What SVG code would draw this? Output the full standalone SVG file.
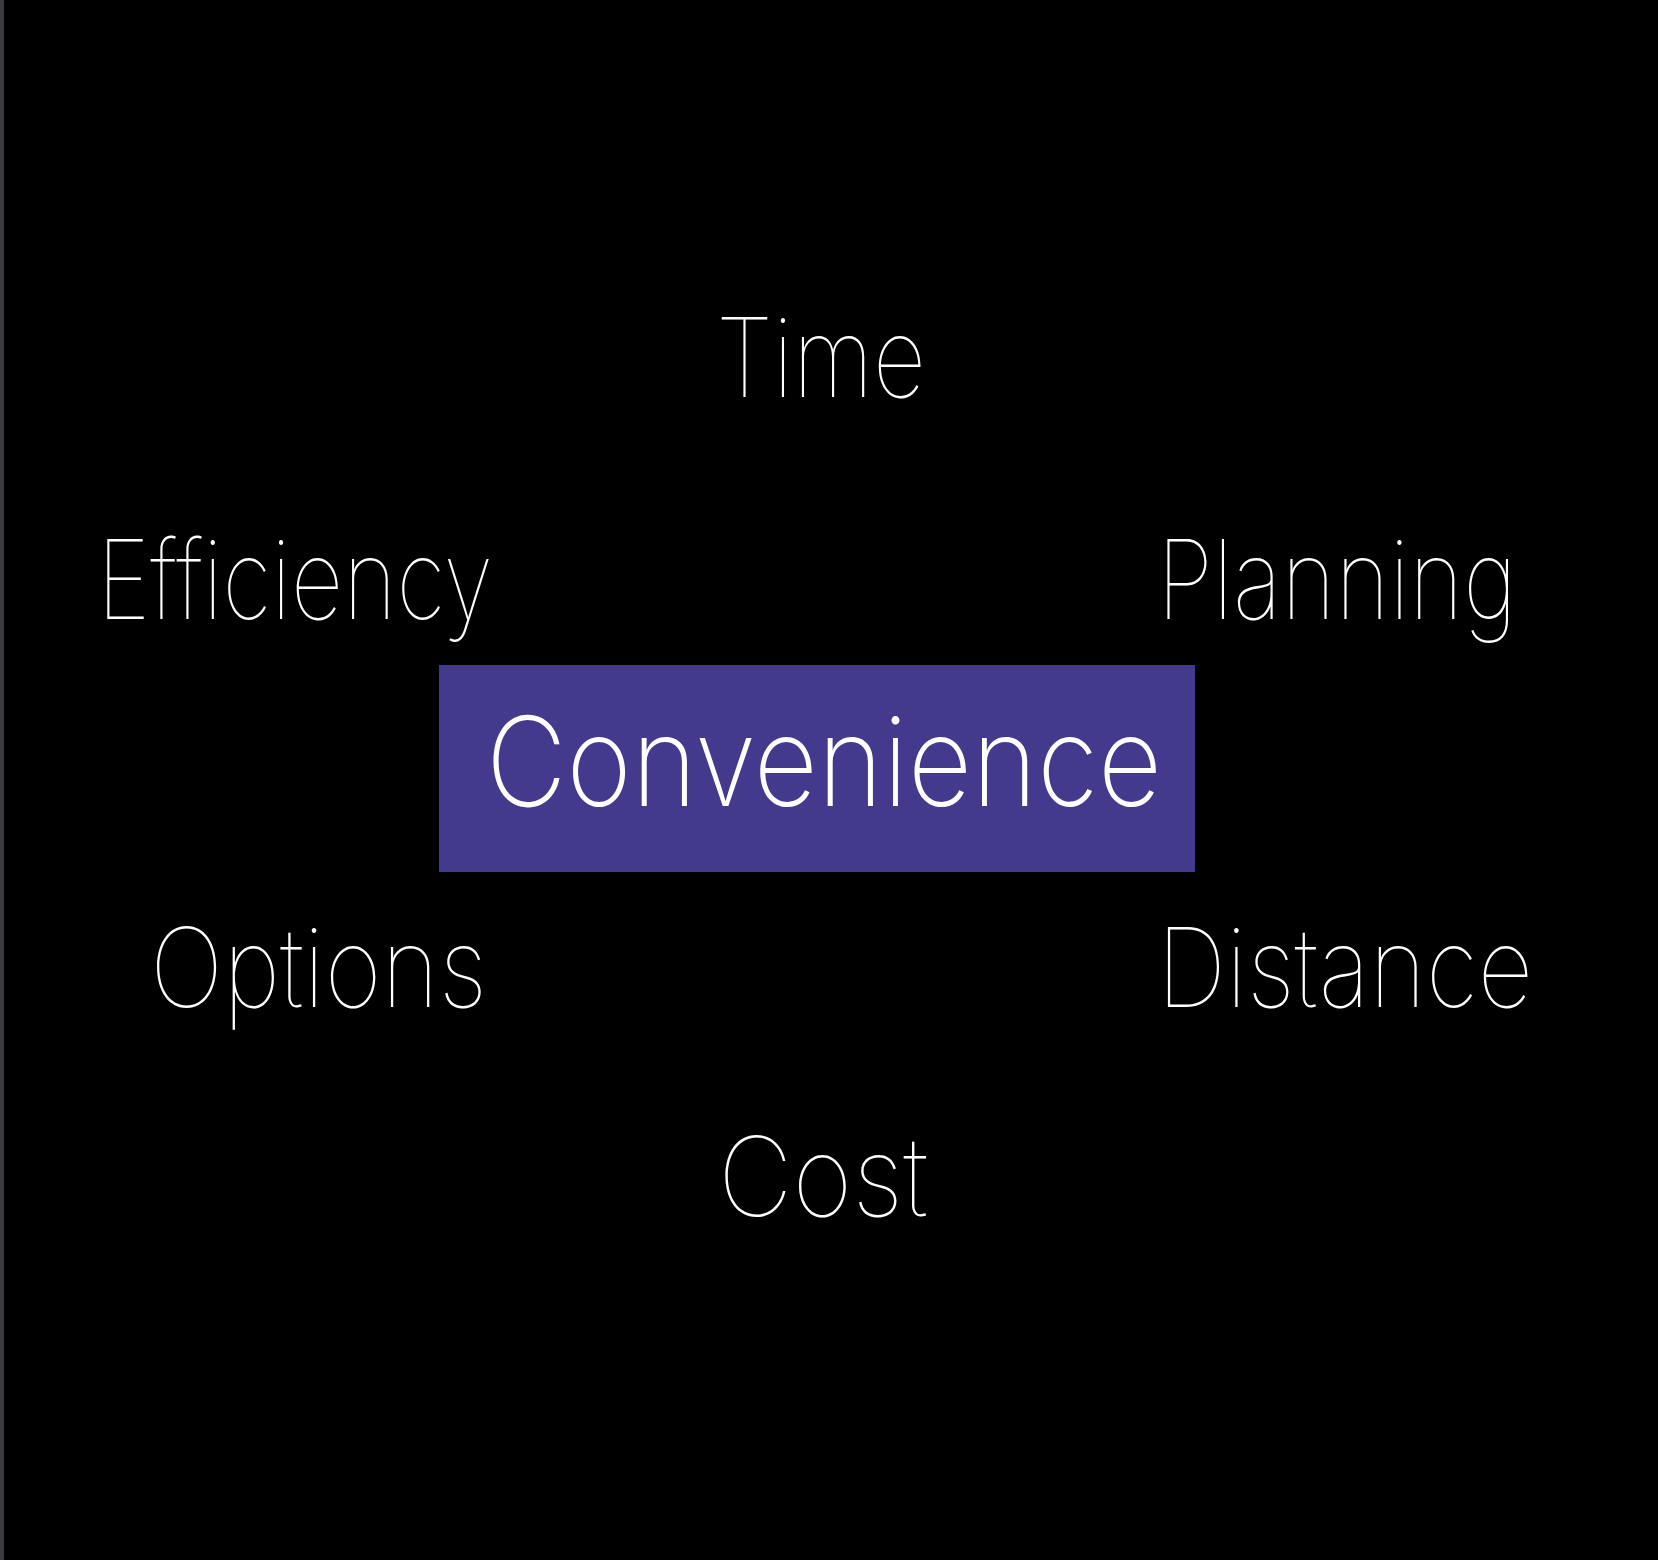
<svg xmlns="http://www.w3.org/2000/svg" width="1658" height="1560" viewBox="0 0 1658 1560">
<style>
.lbl{font-family:"Inter","Roboto","Liberation Sans",sans-serif;font-weight:100;fill:#ffffff;font-size:110px;font-variant-ligatures:none}
.main{font-size:124px;font-weight:200}
</style>
<rect x="0" y="0" width="1658" height="1560" fill="#000000"/>
<rect x="0" y="0" width="4" height="1560" fill="#3b3b42"/>
<g id="node-convenience">
<rect x="439" y="665" width="756" height="207" fill="#433a8e"/>
<text class="lbl main" x="486" y="806" textLength="676" lengthAdjust="spacingAndGlyphs">Convenience</text>
</g>
<g id="node-time"><text class="lbl" x="716" y="397" textLength="210" lengthAdjust="spacingAndGlyphs">Time</text></g>
<g id="node-efficiency"><text class="lbl" x="97" y="619" textLength="396" lengthAdjust="spacingAndGlyphs">Efficiency</text></g>
<g id="node-planning"><text class="lbl" x="1157" y="619" textLength="360" lengthAdjust="spacingAndGlyphs">Planning</text></g>
<g id="node-options"><text class="lbl" x="150" y="1007" textLength="337" lengthAdjust="spacingAndGlyphs">Options</text></g>
<g id="node-distance"><text class="lbl" x="1157" y="1007" textLength="376" lengthAdjust="spacingAndGlyphs">Distance</text></g>
<g id="node-cost"><text class="lbl" x="718" y="1216" textLength="210" lengthAdjust="spacingAndGlyphs">Cost</text></g>
<g id="connectors"></g>
</svg>
